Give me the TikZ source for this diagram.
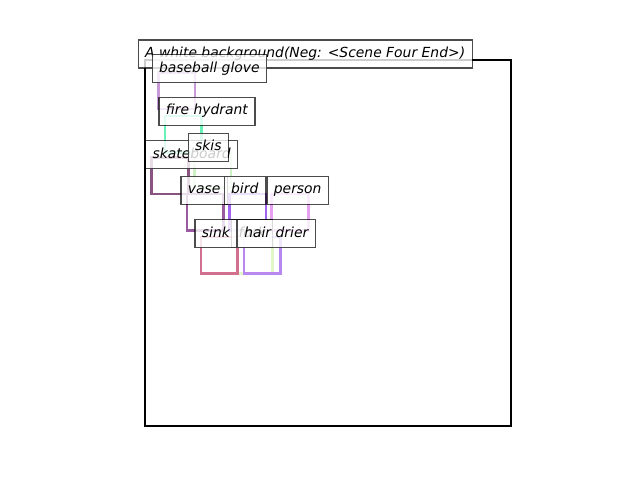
\documentclass[tikz,border=0pt]{standalone}
\usepackage{fontspec}
\newfontfamily\lblfont{DejaVu Sans}
\begin{document}
\begin{tikzpicture}[x=1pt,y=-1pt,
  lbl/.style={draw=black, draw opacity=0.7, line width=1.2pt, fill=white, fill opacity=0.8, text opacity=1,
    font=\lblfont\itshape\fontsize{13.9}{16}\selectfont, inner xsep=7pt, inner ysep=7pt,
    text height=10.6pt, text depth=3.4pt, anchor=west},
  objbox/.style={line width=2.5pt, minimum width=36.7pt, minimum height=36.5pt, inner sep=0pt, outer sep=0pt, anchor=north west},
  frame/.style={draw=black, line width=2pt, minimum width=366pt, minimum height=366pt, inner sep=0pt, anchor=north west}]
\definecolor{cglove}{HTML}{C89AD8}
\definecolor{chydrant}{HTML}{66F2B8}
\definecolor{cskate}{HTML}{8A5482}
\definecolor{cskis}{HTML}{CDF0C5}
\definecolor{cvase}{HTML}{9A5AA0}
\definecolor{cbird}{HTML}{A064F0}
\definecolor{cperson}{HTML}{E6A0F0}
\definecolor{csink}{HTML}{D27090}
\definecolor{cfork}{HTML}{E0F8C8}
\definecolor{cdrier}{HTML}{B888F0}
\useasboundingbox (0,0) rectangle (640,480);

% outer frame
\node[frame] (scene) at (144,59.3) {};

% object boxes
\node[objbox, draw=cglove]   (b-glove)   at (158.3,72.3) {};
\node[objbox, draw=chydrant] (b-hydrant) at (165,116) {};
\node[objbox, draw=cskate]   (b-skate)   at (151.7,157.7) {};
\node[objbox, draw=cskis]    (b-skis)    at (194.3,151) {};
\node[objbox, draw=cvase]    (b-vase)    at (187,194) {};
\node[objbox, draw=cbird]    (b-bird)    at (229.3,194) {};
\node[objbox, draw=cperson]  (b-person)  at (271.7,194) {};
\node[objbox, draw=cfork, minimum width=35pt] (b-fork) at (237.7,237) {};
\node[objbox, draw=csink]    (b-sink)    at (201,237) {};
\node[objbox, draw=cdrier]   (b-drier)   at (244,237) {};

% labels
\node[lbl] (t-scene)   at (137.5,54)    {A white background(Neg: <Scene Four End>)};
\node[lbl] (t-glove)   at (151.5,68.6)  {baseball glove};
\node[lbl] (t-hydrant) at (158.3,111.3) {fire hydrant};
\node[lbl] (t-skate)   at (145,154.5)   {skateboard};
\node[lbl] (t-skis)    at (187.5,147.2) {skis};
\node[lbl] (t-fork)    at (231,233.6)   {fork};
\node[lbl] (t-vase)    at (180.3,190.2) {vase};
\node[lbl] (t-bird)    at (223.5,190.2) {bird};
\node[lbl] (t-person)  at (266.3,190.2) {person};
\node[lbl] (t-sink)    at (194.3,233.6) {sink};
\node[lbl] (t-drier)   at (236.7,233.6) {hair drier};
\end{tikzpicture}
\end{document}
